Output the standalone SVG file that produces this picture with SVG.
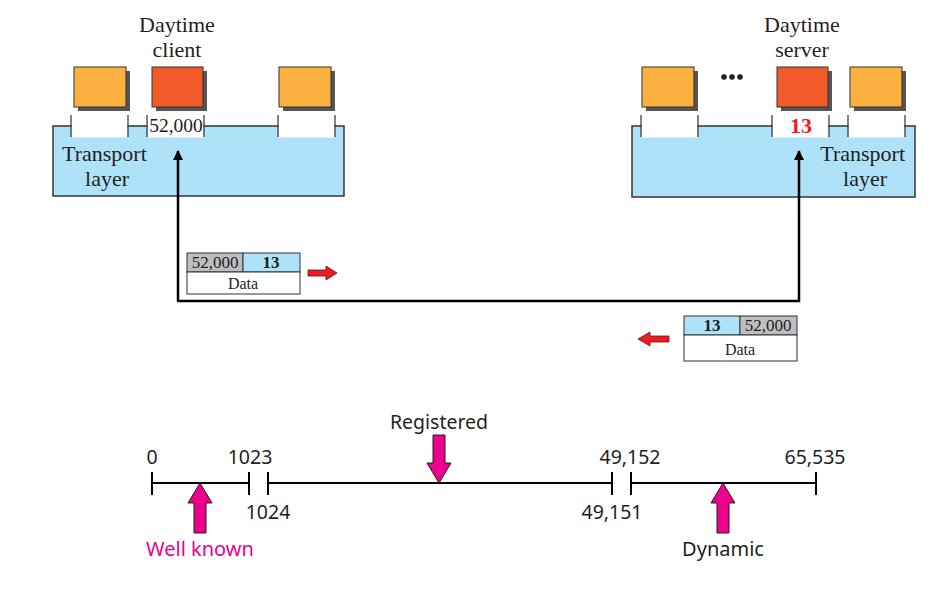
<svg xmlns="http://www.w3.org/2000/svg" width="942" height="592" viewBox="0 0 942 592">
<style>
.serif{font-family:"Liberation Serif","Times New Roman",serif;fill:#231f20}
.sans{font-family:"Noto Sans","Open Sans",sans-serif;fill:#231f20}
.layer{fill:#aee2f8;stroke:#333;stroke-width:1.5}
.slot{fill:#fff;stroke:none}
.tick{stroke:#333;stroke-width:1.2}
.orange{fill:#fbb040;stroke:#333;stroke-width:1}
.red{fill:#f15a29;stroke:#333;stroke-width:1}
.shadow{fill:#555}
.cell{stroke:#333;stroke-width:1}
.conn{fill:none;stroke:#000;stroke-width:2.5}
.nl{stroke:#000;stroke-width:2;fill:none}
.pink{fill:#ec008c;stroke:#231f20;stroke-width:1}
.redarrow{fill:#ed1c24;stroke:#6d1010;stroke-width:0.8}
</style>
<defs>
<marker id="ah" viewBox="0 0 10 10" refX="9" refY="5" markerWidth="4" markerHeight="4" orient="auto">
<path d="M0,0 L10,5 L0,10 z" fill="#000"/>
</marker>
</defs>
<rect width="942" height="592" fill="#fff"/>

<g id="client">
<text class="serif" x="177" y="32" font-size="22" text-anchor="middle">Daytime</text>
<text class="serif" x="177" y="57" font-size="22" text-anchor="middle">client</text>
<rect class="layer" x="53" y="126" width="291" height="70"/>
<rect class="slot" x="71.6" y="124" width="55.8" height="13.5"/>
<rect class="slot" x="147.6" y="124" width="55.8" height="13.5"/>
<rect class="slot" x="278.6" y="124" width="55.8" height="13.5"/>
<path class="tick" d="M71,115V137M128,115V137M147,115V137M204,115V137M278,115V137M335,115V137"/>
<rect class="shadow" x="78" y="71" width="52" height="40"/>
<rect class="orange" x="74" y="67" width="52" height="40"/>
<rect class="shadow" x="156" y="71" width="51" height="40"/>
<rect class="red" x="152" y="67" width="51" height="40"/>
<rect class="shadow" x="283" y="71" width="52" height="40"/>
<rect class="orange" x="279" y="67" width="52" height="40"/>
<text class="serif" x="176" y="132" font-size="19.5" text-anchor="middle">52,000</text>
<text class="serif" x="62" y="161" font-size="22">Transport</text>
<text class="serif" x="107" y="186" font-size="22" text-anchor="middle">layer</text>
</g>

<g id="server">
<text class="serif" x="802" y="32" font-size="22" text-anchor="middle">Daytime</text>
<text class="serif" x="802" y="57" font-size="22" text-anchor="middle">server</text>
<rect class="layer" x="632" y="126" width="283" height="71"/>
<rect class="slot" x="641.6" y="124" width="55.8" height="13.5"/>
<rect class="slot" x="772.6" y="124" width="55.8" height="13.5"/>
<rect class="slot" x="848.6" y="124" width="55.8" height="13.5"/>
<path class="tick" d="M641,115V137M698,115V137M772,115V137M829,115V137M848,115V137M905,115V137"/>
<rect class="shadow" x="646" y="71" width="52" height="40"/>
<rect class="orange" x="642" y="67" width="52" height="40"/>
<circle cx="724" cy="77" r="2.8" fill="#231f20"/>
<circle cx="732" cy="77" r="2.8" fill="#231f20"/>
<circle cx="740" cy="77" r="2.8" fill="#231f20"/>
<rect class="shadow" x="781" y="71" width="51" height="40"/>
<rect class="red" x="777" y="67" width="51" height="40"/>
<rect class="shadow" x="854" y="71" width="52" height="40"/>
<rect class="orange" x="850" y="67" width="52" height="40"/>
<text class="serif" x="801" y="133" font-size="22" font-weight="bold" text-anchor="middle" style="fill:#ed1c24">13</text>
<text class="serif" x="905" y="161" font-size="22" text-anchor="end">Transport</text>
<text class="serif" x="865" y="186" font-size="22" text-anchor="middle">layer</text>
</g>

<g id="connectors">
<path class="conn" d="M178,301V151" marker-end="url(#ah)"/>
<path class="conn" d="M177,301H799V151" marker-end="url(#ah)"/>
</g>

<g id="packet1">
<rect class="cell" x="187" y="253" width="56" height="19" fill="#bcbec0"/>
<rect class="cell" x="243" y="253" width="57" height="19" fill="#aee2f8"/>
<rect class="cell" x="187" y="272" width="113" height="22" fill="#fff"/>
<text class="serif" x="215" y="268" font-size="17" text-anchor="middle">52,000</text>
<text class="serif" x="271" y="268" font-size="17" font-weight="bold" text-anchor="middle">13</text>
<text class="serif" x="243" y="289" font-size="16" text-anchor="middle">Data</text>
<path class="redarrow" d="M308,270H326V266L337,273L326,280V276H308Z"/>
</g>

<g id="packet2">
<rect class="cell" x="684" y="316" width="56" height="19" fill="#aee2f8"/>
<rect class="cell" x="740" y="316" width="57" height="19" fill="#bcbec0"/>
<rect class="cell" x="684" y="335" width="113" height="26" fill="#fff"/>
<text class="serif" x="712" y="331" font-size="17" font-weight="bold" text-anchor="middle">13</text>
<text class="serif" x="768" y="331" font-size="17" text-anchor="middle">52,000</text>
<text class="serif" x="740" y="355" font-size="16" text-anchor="middle">Data</text>
<path class="redarrow" d="M669,336H650V332L638,339L650,346V342H669Z"/>
</g>

<g id="numberline">
<path class="nl" d="M152,483H249M152,472V495M249,472V495M268,483H612M268,472V495M612,472V495M631,483H816M631,472V495M816,472V495"/>
<text class="sans" x="152" y="464" font-size="19.5" text-anchor="middle">0</text>
<text class="sans" x="250" y="464" font-size="19.5" text-anchor="middle">1023</text>
<text class="sans" x="268" y="519" font-size="19.5" text-anchor="middle">1024</text>
<text class="sans" x="439" y="429" font-size="19.5" text-anchor="middle">Registered</text>
<text class="sans" x="630" y="464" font-size="19.5" text-anchor="middle">49,152</text>
<text class="sans" x="612" y="519" font-size="19.5" text-anchor="middle">49,151</text>
<text class="sans" x="815" y="464" font-size="19.5" text-anchor="middle">65,535</text>
</g>

<g id="registered-arrow">
<path class="pink" d="M433,435H445V463H451L439,483L427,463H433Z"/>
</g>
<g id="wellknown">
<path class="pink" d="M194,533H206V503H212L200,483L188,503H194Z"/>
<text class="sans" x="200" y="556" font-size="20" text-anchor="middle" style="fill:#ec008c">Well known</text>
</g>
<g id="dynamic">
<path class="pink" d="M717,533H729V503H735L723,483L711,503H717Z"/>
<text class="sans" x="723" y="556" font-size="20" text-anchor="middle">Dynamic</text>
</g>
</svg>
